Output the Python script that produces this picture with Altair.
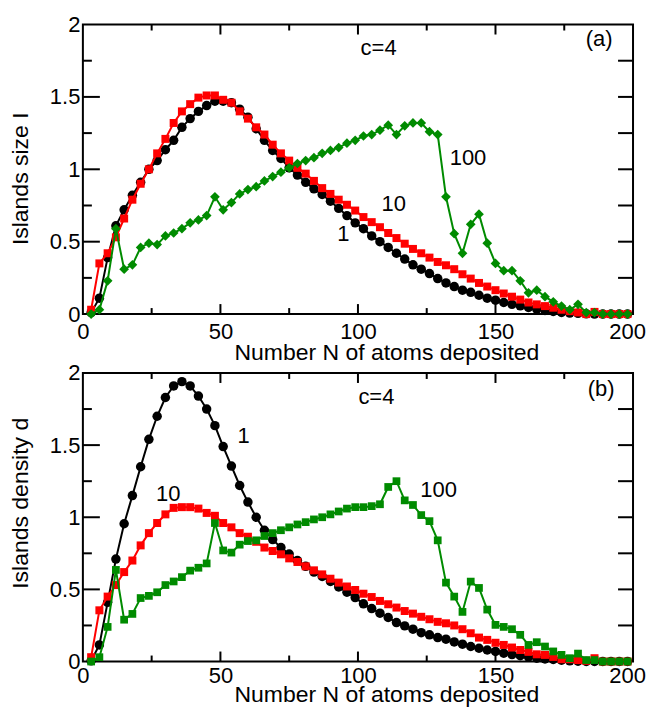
import altair as alt
import pandas as pd

# ---------------- data ----------------
N = [3, 6, 9, 12, 15, 18, 21, 24, 27, 30, 33, 36, 39, 42, 45, 48, 51, 54, 57, 60,
     63, 66, 69, 72, 75, 78, 81, 84, 87, 90, 93, 96, 99, 102, 105, 108, 111, 114, 117, 120,
     123, 126, 129, 132, 135, 138, 141, 144, 147, 150, 153, 156, 159, 162, 165, 168, 171, 174, 177, 180,
     183, 186, 189, 192, 195, 198]

size_1 = [0.01, 0.11, 0.39, 0.61, 0.72, 0.82, 0.91, 1.00, 1.06, 1.135, 1.20, 1.29, 1.35, 1.40, 1.44, 1.47, 1.47, 1.46, 1.415, 1.36,
          1.28, 1.20, 1.13, 1.075, 1.01, 0.96, 0.91, 0.865, 0.826, 0.78, 0.73, 0.68, 0.63, 0.59, 0.54, 0.50, 0.46, 0.42, 0.38, 0.34,
          0.31, 0.28, 0.245, 0.215, 0.19, 0.165, 0.15, 0.13, 0.11, 0.096, 0.08, 0.067, 0.057, 0.046, 0.034, 0.025, 0.018, 0.011, 0.007, 0.005,
          0.002, 0.0, 0.0, 0.0, 0.0, 0.0]
size_10 = [0.03, 0.35, 0.42, 0.53, 0.66, 0.79, 0.90, 1.00, 1.11, 1.21, 1.32, 1.40, 1.45, 1.495, 1.51, 1.51, 1.48, 1.46, 1.40, 1.35,
           1.29, 1.24, 1.17, 1.11, 1.06, 1.01, 0.97, 0.92, 0.87, 0.83, 0.79, 0.755, 0.715, 0.67, 0.635, 0.60, 0.56, 0.525, 0.486, 0.45,
           0.42, 0.39, 0.36, 0.337, 0.31, 0.275, 0.245, 0.215, 0.19, 0.165, 0.142, 0.12, 0.10, 0.08, 0.067, 0.055, 0.044, 0.03, 0.02, 0.011,
           0.0, 0.015, 0.0, 0.0, 0.0, 0.0]
size_100 = [0.0, 0.03, 0.23, 0.59, 0.31, 0.34, 0.46, 0.49, 0.48, 0.54, 0.56, 0.59, 0.63, 0.65, 0.68, 0.81, 0.72, 0.77, 0.83, 0.86,
            0.88, 0.92, 0.95, 0.98, 1.01, 1.04, 1.06, 1.08, 1.11, 1.13, 1.15, 1.18, 1.20, 1.23, 1.24, 1.27, 1.305, 1.24, 1.30, 1.32,
            1.32, 1.26, 1.24, 0.81, 0.555, 0.42, 0.62, 0.69, 0.49, 0.35, 0.30, 0.30, 0.23, 0.147, 0.165, 0.12, 0.085, 0.055, 0.03, 0.067,
            0.01, 0.01, 0.0, 0.0, 0.0, 0.0]

dens_1 = [0.005, 0.115, 0.41, 0.71, 0.955, 1.15, 1.35, 1.54, 1.70, 1.83, 1.91, 1.94, 1.91, 1.84, 1.75, 1.635, 1.49, 1.355, 1.22, 1.105,
          1.0, 0.91, 0.845, 0.79, 0.745, 0.70, 0.66, 0.62, 0.59, 0.555, 0.517, 0.48, 0.443, 0.40, 0.367, 0.335, 0.305, 0.27, 0.247, 0.224,
          0.20, 0.185, 0.166, 0.155, 0.136, 0.12, 0.104, 0.092, 0.08, 0.07, 0.058, 0.048, 0.04, 0.032, 0.023, 0.018, 0.014, 0.009, 0.005, 0.002,
          0.0, 0.0, 0.0, 0.0, 0.0, 0.0]
dens_10 = [0.03, 0.355, 0.45, 0.53, 0.62, 0.70, 0.805, 0.89, 0.96, 1.02, 1.065, 1.07, 1.07, 1.06, 1.03, 1.01, 0.96, 0.93, 0.89, 0.865,
           0.83, 0.79, 0.766, 0.743, 0.715, 0.69, 0.66, 0.632, 0.604, 0.574, 0.547, 0.52, 0.496, 0.47, 0.447, 0.42, 0.397, 0.374, 0.35, 0.332,
           0.31, 0.293, 0.275, 0.265, 0.25, 0.224, 0.196, 0.166, 0.15, 0.13, 0.115, 0.097, 0.08, 0.067, 0.05, 0.046, 0.032, 0.016, 0.016, 0.01,
           0.005, 0.023, 0.0, 0.0, 0.0, 0.0]
dens_100 = [0.0, 0.03, 0.24, 0.635, 0.29, 0.33, 0.44, 0.455, 0.48, 0.53, 0.555, 0.585, 0.63, 0.65, 0.68, 0.96, 0.77, 0.755, 0.81, 0.835,
            0.84, 0.87, 0.89, 0.91, 0.93, 0.95, 0.966, 0.985, 1.0, 1.02, 1.04, 1.06, 1.07, 1.07, 1.077, 1.09, 1.21, 1.25, 1.117, 1.085,
            1.015, 0.973, 0.84, 0.547, 0.45, 0.344, 0.554, 0.51, 0.36, 0.254, 0.24, 0.224, 0.185, 0.115, 0.134, 0.104, 0.07, 0.046, 0.023, 0.055,
            0.01, 0.01, 0.0, 0.0, 0.0, 0.0]

series_names = ["1", "10", "100"]
series_colors = ["#000000", "#ff0000", "#008b00"]

x_tick_labels = [0, 50, 100, 150, 200]
y_tick_labels = [0, 0.5, 1, 1.5, 2]
x_major_inner = [50, 100, 150]
x_minor_inner = [25, 75, 125, 175]
y_major_inner = [0.5, 1, 1.5]
y_minor_inner = [0.25, 0.75, 1.25, 1.75]

# annotations: (x, y, text)
notes_a = {"x": [107.5, 187.7, 140, 113, 94.7], "y": [1.84, 1.90, 1.076, 0.76, 0.55],
           "t": ["c=4", "(a)", "100", "10", "1"]}
notes_b = {"x": [106.7, 188.4, 129.3, 58.4, 31], "y": [1.83, 1.89, 1.19, 1.56, 1.16],
           "t": ["c=4", "(b)", "100", "1", "10"]}

W = 551
FONT = "Liberation Sans"

xscale = alt.Scale(domain=[0, 200], nice=False, zero=False)
yscale = alt.Scale(domain=[0, 2], nice=False, zero=False)


def make_panel(values, shapes, sizes, notes, ytitle, H, lpad, tpad, ytitle_pos):
    xaxis = alt.Axis(values=x_tick_labels, labelPadding=lpad, titlePadding=tpad, labelFlush=False,
                     labelOverlap=False, labelFont=FONT, labelFontSize=22,
                     labelOffset={"condition": {"test": "datum.value == 200", "value": -6}, "value": 0},
                     titleFont=FONT, titleFontSize=23, titleX=304, titleAlign="center",
                     title="Number N of atoms deposited")
    yaxis = alt.Axis(values=y_tick_labels, format="~g", labelPadding=3, titlePadding=17,
                     labelFlush=False, labelOverlap=False, labelFont=FONT, labelFontSize=22,
                     titleFont=FONT, titleFontSize=23, titleY=ytitle_pos, title=ytitle)
    X = lambda f: alt.X(f, type="quantitative", scale=xscale, axis=xaxis)
    Y = lambda f: alt.Y(f, type="quantitative", scale=yscale, axis=yaxis)

    layers = []
    tx_maj = pd.DataFrame({"t": x_major_inner})
    tx_min = pd.DataFrame({"t": x_minor_inner})
    ty_maj = pd.DataFrame({"t": y_major_inner})
    ty_min = pd.DataFrame({"t": y_minor_inner})
    rule = dict(color="black", strokeWidth=2)
    layers.append(alt.Chart(tx_maj).mark_rule(**rule).encode(x=X("t"), y=alt.value(H), y2=alt.value(H - 10)))
    layers.append(alt.Chart(tx_min).mark_rule(**rule).encode(x=X("t"), y=alt.value(H), y2=alt.value(H - 6)))
    layers.append(alt.Chart(tx_maj).mark_rule(**rule).encode(x=X("t"), y=alt.value(0), y2=alt.value(10)))
    layers.append(alt.Chart(tx_min).mark_rule(**rule).encode(x=X("t"), y=alt.value(0), y2=alt.value(6)))
    layers.append(alt.Chart(ty_maj).mark_rule(**rule).encode(y=Y("t"), x=alt.value(0), x2=alt.value(17)))
    layers.append(alt.Chart(ty_min).mark_rule(**rule).encode(y=Y("t"), x=alt.value(0), x2=alt.value(9)))
    layers.append(alt.Chart(ty_maj).mark_rule(**rule).encode(y=Y("t"), x=alt.value(W), x2=alt.value(W - 15)))
    layers.append(alt.Chart(ty_min).mark_rule(**rule).encode(y=Y("t"), x=alt.value(W), x2=alt.value(W - 15)))

    for name, col, vals, shp, sz in zip(series_names, series_colors, values, shapes, sizes):
        df = pd.DataFrame({"N": N, "v": vals})
        layers.append(alt.Chart(df).mark_line(color=col, strokeWidth=2).encode(x=X("N"), y=Y("v")))
        layers.append(alt.Chart(df).mark_point(filled=True, shape=shp, size=sz, color=col,
                                               opacity=1, strokeWidth=0).encode(x=X("N"), y=Y("v")))

    nd = pd.DataFrame(notes)
    layers.append(alt.Chart(nd).mark_text(font=FONT, fontSize=22, color="black",
                                          align="center", baseline="middle").encode(
        x=X("x"), y=Y("y"), text="t:N"))

    return alt.layer(*layers).properties(width=W, height=H)


panel_a = make_panel([size_1, size_10, size_100], ["circle", "square", "diamond"], [90, 64, 95],
                     notes_a, "Islands size I", 290, 7, 0, 154)
panel_b = make_panel([dens_1, dens_10, dens_100], ["circle", "square", "square"], [90, 64, 60],
                     notes_b, "Islands density d", 289, 4, -3, 130)

chart = alt.vconcat(panel_a, panel_b, spacing=59, bounds="flush").properties(
    padding={"left": 0, "top": 4, "right": 0, "bottom": 0}
).configure_view(
    stroke="black", strokeWidth=2
).configure_axis(
    domain=False, ticks=False, grid=False, labelColor="black",
    titleFontWeight="normal", titleColor="black"
)

chart.save("out.html", embed_options={"renderer": "svg", "actions": False})
